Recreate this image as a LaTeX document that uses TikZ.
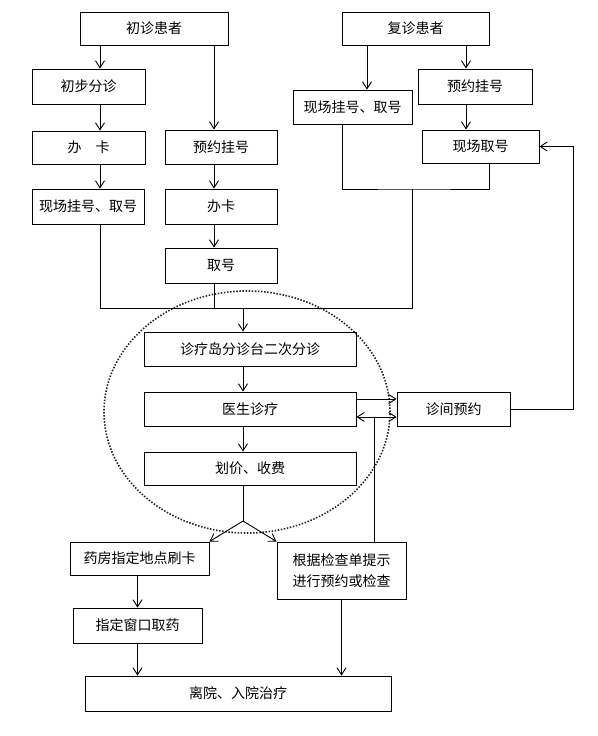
\documentclass[tikz,border=0pt]{standalone}
\usepackage{fontspec}
\setmainfont{Noto Sans CJK SC}
\usetikzlibrary{arrows.meta}

\begin{document}
\begin{tikzpicture}[
    x=1pt, y=-1pt,
    box/.style={draw, line width=0.9pt, inner sep=0pt, align=center, font=\fontsize{14}{21}\selectfont},
    sz/.style n args={2}{minimum width=#1pt, minimum height=#2pt},
    ln/.style={line width=0.9pt},
    arr/.style={line width=0.9pt, -{Straight Barb[length=7pt,width=9pt,line width=0.9pt]}},
    island/.style={line width=1.6pt, dash pattern=on 1.5pt off 1.6pt, black!85}
]
\useasboundingbox (0,0) rectangle (597,736);

% columns and junctions
\coordinate (xa) at (100,0);
\coordinate (xb) at (214,0);
\coordinate (xd) at (367,0);
\coordinate (xe) at (466,0);
\coordinate (xf) at (342,0);
\coordinate (xg) at (489,0);
\coordinate (xi) at (573,0);
\coordinate (m2) at (412,189);
\coordinate (m1) at (243,308);
\coordinate (fork) at (243,521);
\coordinate (jn) at (374,417);

\draw[island] (247,412) ellipse [x radius=143pt, y radius=121pt];

\node[box, sz={148}{33}] (chuzhen) at (154,28.5) {初诊患者};
\node[box, sz={113}{35}] (chubu) at (88.5,86.5) {初步分诊};
\node[box, sz={113}{33}] (banka1) at (88.5,147.5) {办　卡};
\node[box, sz={112}{35}] (xianchang1) at (88,206.5) {现场挂号、取号};
\node[box, sz={112}{34}] (yuyue1) at (221,147) {预约挂号};
\node[box, sz={112}{35}] (banka2) at (221,206.5) {办卡};
\node[box, sz={112}{35}] (quhao) at (221,265.5) {取号};

\node[box, sz={147}{33}] (fuzhen) at (415.5,28.5) {复诊患者};
\node[box, sz={119}{34}] (xianchang2) at (352.5,107) {现场挂号、取号};
\node[box, sz={114}{35}] (yuyue2) at (475,86.5) {预约挂号};
\node[box, sz={117}{33}] (xianchangqu) at (480.5,146.5) {现场取号};

\node[box, sz={212}{34}] (fenzhen) at (250,349) {诊疗岛分诊台二次分诊};
\node[box, sz={212}{34}] (yisheng) at (250,409) {医生诊疗};
\node[box, sz={212}{33}] (huajia) at (250,468.5) {划价、收费};
\node[box, sz={113}{34}] (zhenjian) at (453.5,409) {诊间预约};

\node[box, sz={139}{33}] (yaofang) at (139.5,558.5) {药房指定地点刷卡};
\node[box, sz={129}{57}] (genju) at (341.5,570.5) {根据检查单提示\\进行预约或检查};
\node[box, sz={129}{35}] (chuangkou) at (137.5,625.5) {指定窗口取药};
\node[box, sz={306}{35}] (liyuan) at (238,693.5) {离院、入院治疗};

% first visit
\draw[arr] (chuzhen.south -| xa) -- (chubu.north -| xa);
\draw[arr] (chubu.south -| xa) -- (banka1.north -| xa);
\draw[arr] (banka1.south -| xa) -- (xianchang1.north -| xa);
\draw[arr] (chuzhen.south -| xb) -- (yuyue1.north -| xb);
\draw[arr] (yuyue1.south -| xb) -- (banka2.north -| xb);
\draw[arr] (banka2.south -| xb) -- (quhao.north -| xb);

% return visit
\draw[arr] (fuzhen.south -| xd) -- (xianchang2.north -| xd);
\draw[arr] (fuzhen.south -| xe) -- (yuyue2.north -| xe);
\draw[arr] (yuyue2.south -| xe) -- (xianchangqu.north -| xe);
\draw[ln] (xianchang2.south -| xf) |- (m2) -| (xianchangqu.south -| xg);

% merge
\draw[ln] (xianchang1.south -| xa) |- (m2 |- m1) -- (m2);
\draw[ln] (quhao.south -| xb) -- (xb |- m1);
\draw[arr] (m1) -- (fenzhen.north -| m1);
\draw[arr] (fenzhen.south -| m1) -- (yisheng.north -| m1);
\draw[arr] (yisheng.south -| m1) -- (huajia.north -| m1);
\draw[ln] (huajia.south -| m1) -- (fork);
\draw[arr] (fork) -- (yaofang.north east);
\draw[arr] (fork) -- (genju.north west);

% doctor and appointment
\draw[arr] ([yshift=10pt]yisheng.east) -- ([yshift=10pt]yisheng.east -| zhenjian.west);
\draw[ln] (genju.north -| jn) -- (jn);
\draw[arr] (jn) -- (jn -| yisheng.east);
\draw[arr] (jn) -- (jn -| zhenjian.west);
\draw[arr] (zhenjian.east) -- (zhenjian.east -| xi) |- (xianchangqu.east);

% leaving
\draw[arr] (yaofang.south -| chuangkou) -- (chuangkou.north);
\draw[arr] (chuangkou.south) -- (chuangkou.south |- liyuan.north);
\draw[arr] (genju.south) -- (genju.south |- liyuan.north);
\end{tikzpicture}
\end{document}
